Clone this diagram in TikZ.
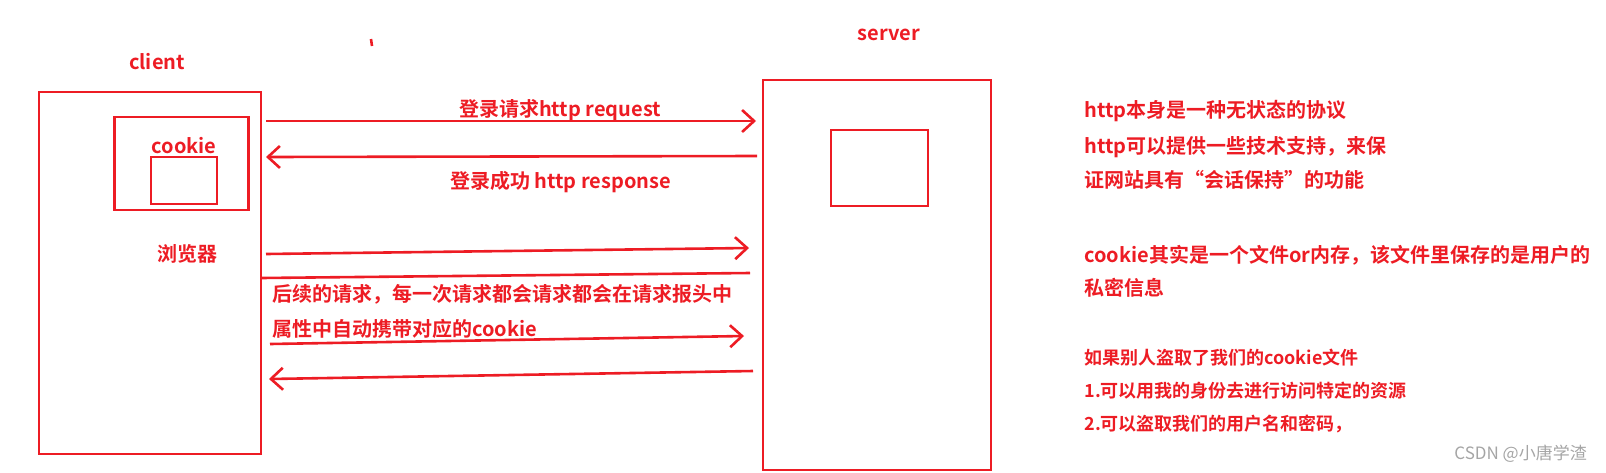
\documentclass[tikz,border=0pt]{standalone}
\usepackage{fontspec}
\setmainfont{Noto Sans CJK SC}[BoldFont={Noto Sans CJK SC Bold}]
\usetikzlibrary{positioning, arrows.meta}
\definecolor{paintred}{RGB}{237,28,36}
\definecolor{markgray}{RGB}{165,165,165}

\begin{document}
\begin{tikzpicture}[
  x=0.5pt, y=-0.5pt,
  font=\bfseries\fontsize{10}{12}\selectfont,
  box/.style   ={rectangle, draw=paintred, line width=1.4pt, inner sep=0pt,
                 outer sep=0pt, anchor=north west},
  lbl/.style   ={text=paintred, inner sep=0pt, anchor=base},
  note/.style  ={text=paintred, inner sep=0pt, anchor=base west},
  small/.style ={note, font=\bfseries\fontsize{9}{11}\selectfont},
  flow/.style  ={-{Straight Barb[length=6pt, width=11pt]}, line width=1.3pt, paintred},
  plain/.style ={line width=1.3pt, paintred}
]
\useasboundingbox (0,0) rectangle (1606,472);

% ---------- boxes ----------
\node[box, minimum width=111pt, minimum height=181pt]  (client)  at (39,92)    {};
\node[box, minimum width=67pt,  minimum height=46.5pt] (jar)     at (114.5,117) {};
\node[box, minimum width=33pt,  minimum height=23.5pt] (crumb)   at (151,157)  {};
\node[box, minimum width=114pt, minimum height=195pt]  (server)  at (763,80)   {};
\node[box, minimum width=48.5pt, minimum height=38pt]  (session) at (831,130)  {};

% ---------- labels ----------
\node[lbl] (clientlbl) at (157,69) {client};
\node[lbl] (serverlbl) at (889,40) {server};
\node[lbl, above=1.5pt of crumb] (cookielbl) {cookie};
\node[lbl] (browser) at (187,261) {浏览器};
\draw[plain, line width=1.3pt] (371,39) -- (372,46);

% ---------- arrow ends ----------
\coordinate (req1)  at (266,121); \coordinate (req2)  at (756,121);
\coordinate (res1)  at (757,156); \coordinate (res2)  at (266,157);
\coordinate (next1) at (266,254); \coordinate (next2) at (749,248);
\coordinate (cut1)  at (261,278); \coordinate (cut2)  at (750,273);
\coordinate (auto1) at (270,344); \coordinate (auto2) at (744,336);
\coordinate (back1) at (753,371); \coordinate (back2) at (269,379);

% ---------- arrows ----------
\draw[flow]  (req1)  -- node[pos=0.6, above=-4pt, text=paintred] (reqlbl) {登录请求http request} (req2);
\draw[flow]  (res1)  -- node[pos=0.4, below=3.5pt, text=paintred] (reslbl) {登录成功 http response} (res2);
\draw[flow]  (next1) -- (next2);
\draw[plain] (cut1)  -- (cut2);
\draw[flow]  (auto1) -- (auto2);
\draw[flow]  (back1) -- (back2);

\node[note] (follow1) at (272,301) {后续的请求，每一次请求都会请求都会在请求报头中};
\node[note] (follow2) at (272,336) {属性中自动携带对应的cookie};

% ---------- notes ----------
\node[note] (state1) at (1084,117) {http本身是一种无状态的协议};
\node[note] (state2) at (1084,153) {http可以提供一些技术支持，来保};
\node[note] (state3) at (1084,187) {证网站具有“会话保持”的功能};

\node[note] (what1) at (1084,262) {cookie其实是一个文件or内存，该文件里保存的是用户的};
\node[note] (what2) at (1084,295) {私密信息};

\node[small] (risk0) at (1084,364) {如果别人盗取了我们的cookie文件};
\node[small] (risk1) at (1084,397) {1.可以用我的身份去进行访问特定的资源};
\node[small] (risk2) at (1084,430) {2.可以盗取我们的用户名和密码，};

\node[note, text=markgray, font=\mdseries\fontsize{8.5}{10}\selectfont] (mark) at (1454,459) {CSDN @小唐学渣};

\end{tikzpicture}
\end{document}
